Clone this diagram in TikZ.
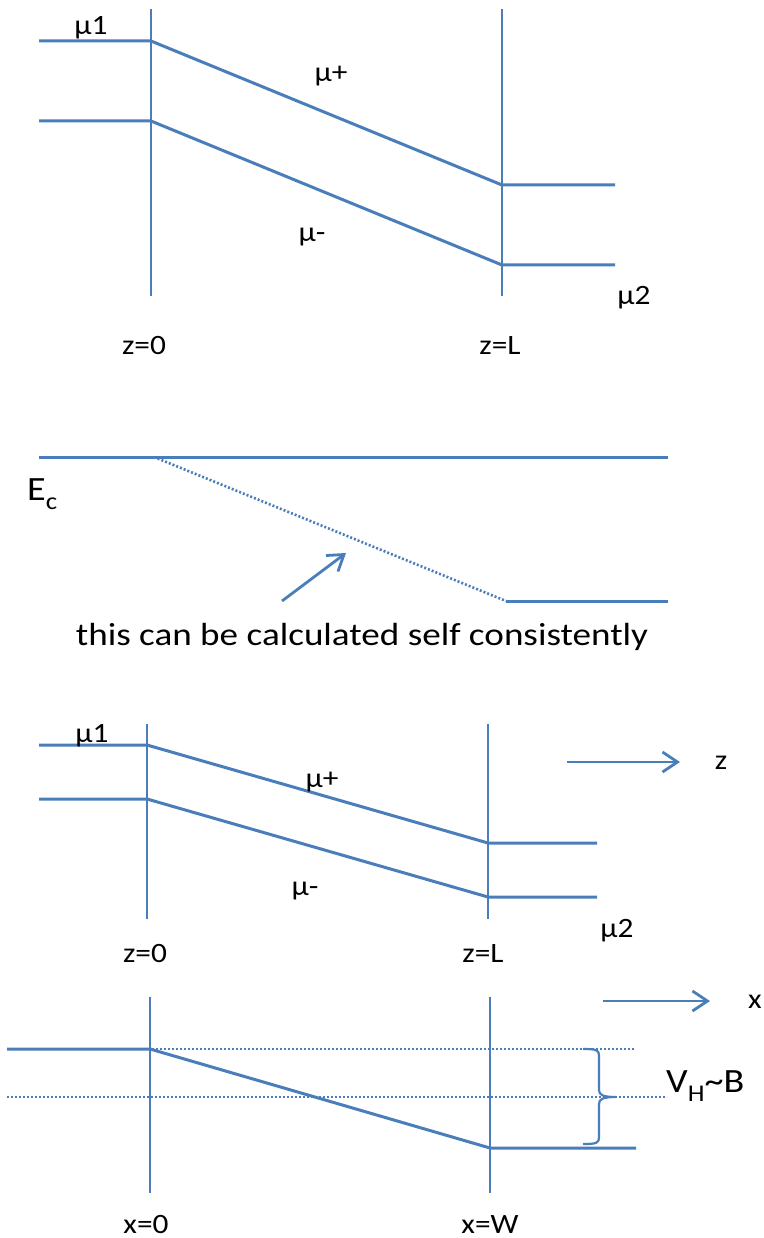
\documentclass[tikz,border=0pt]{standalone}
\usepackage{fontspec}
\usepackage{graphicx}
\setmainfont{Carlito}
\usetikzlibrary{arrows.meta}
\definecolor{lineblue}{RGB}{74,126,187}
\newcommand{\sx}[1]{\scalebox{1.12}[1]{#1}}
\newcommand{\sxx}[1]{\scalebox{1.16}[1]{#1}}
\newcommand{\lowsub}[1]{\raisebox{-9pt}{\fontsize{24}{28}\selectfont #1}}
\begin{document}
\begin{tikzpicture}[x=1pt,y=-1pt,
  band/.style={draw=lineblue,line width=3pt},
  wall/.style={draw=lineblue,line width=2.4pt},
  dotline/.style={draw=lineblue,line width=2.6pt,dash pattern=on 2pt off 2pt},
  arr/.style={draw=lineblue,line width=2.8pt,-{Straight Barb[length=15pt,width=20pt]}},
  lab/.style={font=\fontsize{28}{32}\selectfont,inner sep=0pt,anchor=base},
  biglab/.style={font=\fontsize{34}{40}\selectfont,inner sep=0pt,anchor=base west},
  txt/.style={font=\fontsize{32}{38}\selectfont,inner sep=0pt,anchor=base}]
\useasboundingbox (0,0) rectangle (763,1238);
\fill[white] (0,0) rectangle (763,1238);

% ---------- top panel ----------
\coordinate (a1) at (39,41);   \coordinate (a2) at (151,41);
\coordinate (b1) at (39,121);  \coordinate (b2) at (151,121);
\coordinate (a3) at (502,185); \coordinate (a4) at (615,185);
\coordinate (b3) at (502,265); \coordinate (b4) at (615,265);
\draw[wall] (151,9) -- (151,296);
\draw[wall] (502,9) -- (502,296);
\draw[band] (a1) -- (a2) -- (a3) -- (a4);
\draw[band] (b1) -- (b2) -- (b3) -- (b4);
\node[lab] (m1) at (91,35) {\sx{μ1}};
\node[lab] (mp) at (331,82) {\sx{μ+}};
\node[lab] (mm) at (312,242) {\sx{μ-}};
\node[lab] (m2) at (634,305) {\sx{μ2}};
\node[lab] (z0) at (144,354) {\sx{z=0}};
\node[lab] (zL) at (500,354) {\sx{z=L}};

% ---------- middle panel ----------
\coordinate (e1) at (39,457);  \coordinate (e2) at (154,457);
\coordinate (e3) at (668,457);
\coordinate (f1) at (506,601); \coordinate (f2) at (668,601);
\draw[band] (e1) -- (e3);
\draw[dotline] (e2) -- (f1);
\draw[band] (f1) -- (f2);
\node[biglab] (Ec) at (27,500) {\sx{E\lowsub{c}}};
\coordinate (p1) at (282,601); \coordinate (p2) at (346,553);
\draw[arr] (p1) -- (p2);
\node[txt] (note) at (362,645) {\sxx{this can be calculated self consistently}};

% ---------- lower panel (z) ----------
\coordinate (c1) at (39,745);  \coordinate (c2) at (147,745);
\coordinate (d1) at (39,799);  \coordinate (d2) at (147,799);
\coordinate (c3) at (488,843); \coordinate (c4) at (597,843);
\coordinate (d3) at (488,897); \coordinate (d4) at (597,897);
\draw[wall] (147,724) -- (147,919);
\draw[wall] (488,724) -- (488,919);
\draw[band] (c1) -- (c2) -- (c3) -- (c4);
\draw[band] (d1) -- (d2) -- (d3) -- (d4);
\coordinate (za) at (567,762); \coordinate (zb) at (680,762);
\draw[arr] (za) -- (zb);
\node[lab] (zz) at (721,769) {\sx{z}};
\node[lab] (n1) at (92,742) {\sx{μ1}};
\node[lab] (np) at (322,787) {\sx{μ+}};
\node[lab] (nm) at (305,895) {\sx{μ-}};
\node[lab] (n2) at (617,937) {\sx{μ2}};
\node[lab] (nz0) at (145,962) {\sx{z=0}};
\node[lab] (nzL) at (483,962) {\sx{z=L}};

% ---------- bottom panel (x) ----------
\coordinate (h1) at (7,1049);   \coordinate (h2) at (150,1049);
\coordinate (h3) at (490,1148); \coordinate (h4) at (636,1148);
\draw[wall] (150,997) -- (150,1193);
\draw[wall] (490,997) -- (490,1193);
\draw[dotline] (56,1049) -- (635,1049);
\draw[dotline] (7,1097) -- (667,1097);
\draw[band] (h1) -- (h2) -- (h3) -- (h4);
% brace
\coordinate (bt) at (583,1049); \coordinate (bb) at (583,1144);
\coordinate (btip) at (616,1097);
\draw[draw=lineblue,line width=2.2pt,line join=round]
  (bt) .. controls (597,1049) and (599,1050) .. (599,1056)
  -- (599,1090) .. controls (599,1095) and (603,1097) .. (btip)
  (btip) .. controls (603,1097) and (599,1099) .. (599,1104)
  -- (599,1137) .. controls (599,1143) and (597,1144) .. (bb);
\coordinate (xa) at (603,1001); \coordinate (xb) at (710,1001);
\draw[arr] (xa) -- (xb);
\node[lab] (xx) at (755,1008) {\sx{x}};
\node[biglab] (vh) at (666,1092) {\sx{V\lowsub{H}\textasciitilde B}};
\node[lab] (x0) at (146,1233) {\sx{x=0}};
\node[lab] (xW) at (490,1233) {\sx{x=W}};
\end{tikzpicture}
\end{document}
